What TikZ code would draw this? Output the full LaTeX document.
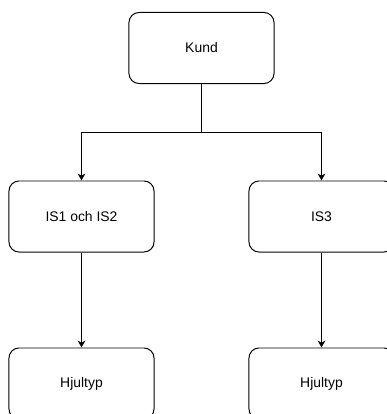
\documentclass[tikz,border=0pt]{standalone}
\usepackage{fontspec}
\setmainfont{Liberation Sans}
\usetikzlibrary{arrows.meta}
\begin{document}
\begin{tikzpicture}
	[
	x=0.025cm, y=-0.025cm,
	font=\fontsize{9.9}{12}\selectfont,
	box/.style={rectangle, rounded corners=0.25cm, draw=black, line width=0.7pt, fill=white, minimum width=3.625cm, minimum height=1.775cm, inner sep=0pt},
	link/.style={-{Stealth[length=5pt, width=5.5pt]}, line width=0.7pt}
	]
		\clip (0, 0) rectangle (387, 414);
		\fill [white] (0, 0) rectangle (387, 414);
	
		% top
		\node (kund) [box] at 	(201.5, 48) {Kund};
		\coordinate (split) at 	(201.5, 132.5);
		
		% middle
		\node (is12) [box] at 	(81.5, 216.5) {IS1 och IS2};
		\node (is3) [box] at 	(321.5, 216.5) {IS3};
		
		% bottom
		\node (hjl) [box] at 	(81.5, 383.5) {Hjultyp};
		\node (hjr) [box] at 	(321.5, 383.5) {Hjultyp};
		% drawing code
		\draw [line width=0.7pt] (kund) -- (split);
		\foreach \to in {is12,is3} \draw [link] (split) -| (\to);
		\foreach \from/\to in {is12/hjl,is3/hjr} \draw [link] (\from) -- (\to);
	\end{tikzpicture}
\end{document}
